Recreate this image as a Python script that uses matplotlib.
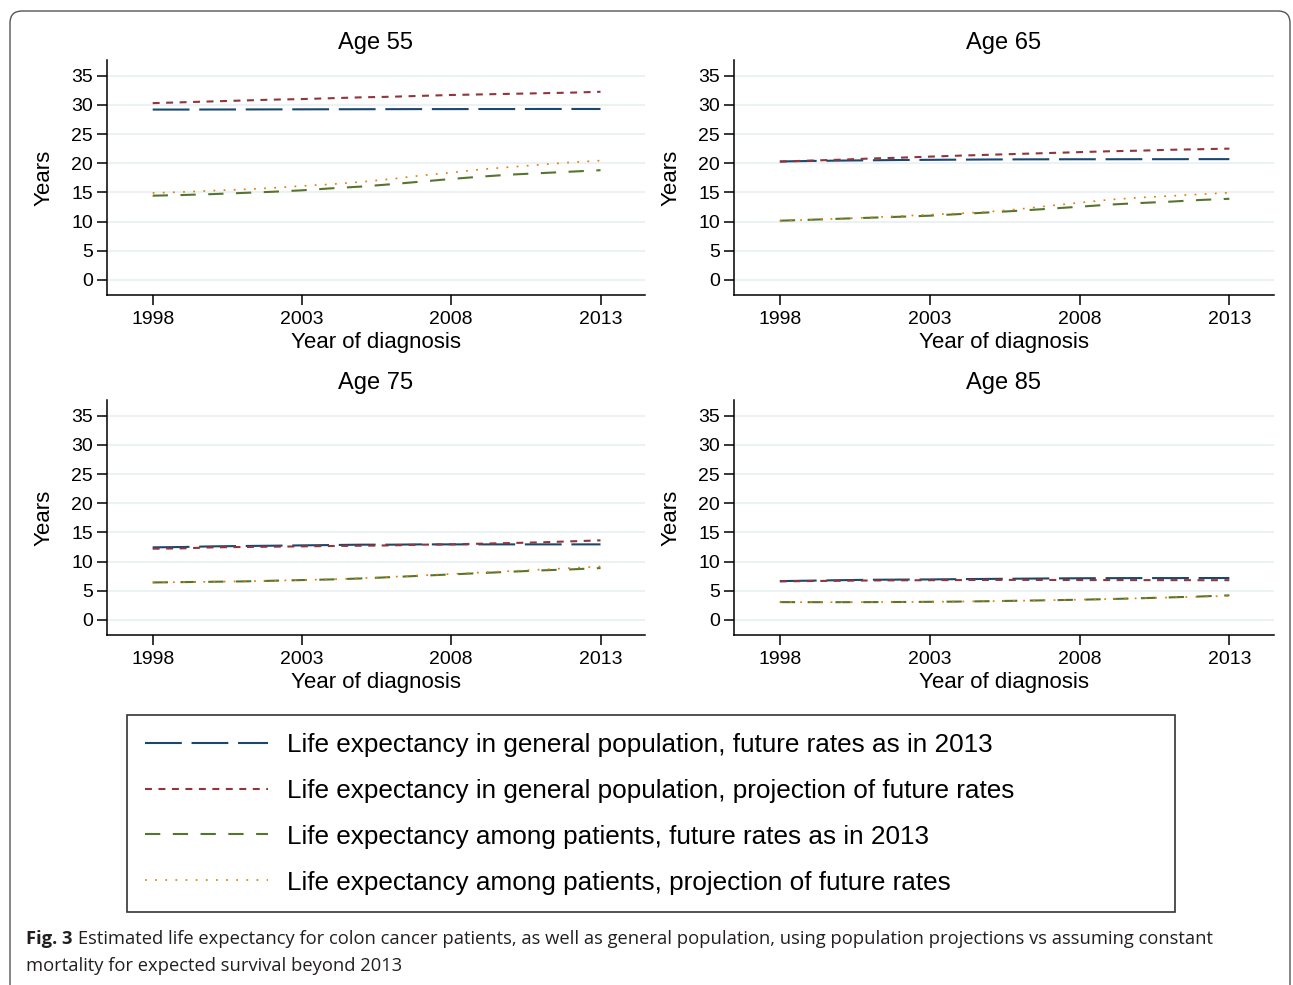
import matplotlib.pyplot as plt
from matplotlib.patches import FancyBboxPatch

plt.rcParams['font.family'] = ['Liberation Sans', 'DejaVu Sans']
plt.rcParams['lines.scale_dashes'] = False

years = list(range(1998, 2014))
ages = [55, 65, 75, 85]

# one row per age group, values per year of diagnosis 1998-2013
gen_const = [
    [29.2, 29.2, 29.21, 29.22, 29.23, 29.24, 29.25, 29.26, 29.27, 29.28, 29.28, 29.29, 29.29, 29.3, 29.3, 29.3],
    [20.3, 20.38, 20.45, 20.5, 20.55, 20.58, 20.61, 20.64, 20.66, 20.67, 20.68, 20.68, 20.69, 20.69, 20.7, 20.7],
    [12.43, 12.49, 12.6, 12.66, 12.71, 12.77, 12.83, 12.89, 12.89, 12.94, 12.94, 12.94, 12.94, 12.94, 12.94, 12.94],
    [6.64, 6.72, 6.8, 6.87, 6.9, 6.93, 6.98, 7.02, 7.06, 7.1, 7.13, 7.15, 7.16, 7.16, 7.17, 7.17],
]
gen_proj = [
    [30.3, 30.45, 30.6, 30.75, 30.9, 31.0, 31.15, 31.3, 31.4, 31.55, 31.7, 31.8, 31.9, 32.0, 32.1, 32.25],
    [20.27, 20.45, 20.6, 20.8, 20.95, 21.13, 21.3, 21.45, 21.6, 21.75, 21.9, 22.05, 22.15, 22.3, 22.4, 22.5],
    [12.2, 12.26, 12.43, 12.49, 12.54, 12.6, 12.66, 12.71, 12.77, 12.89, 12.94, 13.06, 13.17, 13.29, 13.46, 13.63],
    [6.6, 6.65, 6.7, 6.75, 6.78, 6.8, 6.82, 6.84, 6.85, 6.84, 6.82, 6.82, 6.81, 6.81, 6.8, 6.8],
]
pat_const = [
    [14.43, 14.55, 14.7, 14.9, 15.1, 15.35, 15.7, 16.0, 16.4, 16.85, 17.3, 17.7, 18.05, 18.3, 18.55, 18.8],
    [10.14, 10.3, 10.48, 10.65, 10.82, 11.0, 11.28, 11.57, 11.86, 12.2, 12.54, 12.9, 13.17, 13.4, 13.69, 13.9],
    [6.41, 6.47, 6.53, 6.59, 6.7, 6.82, 6.93, 7.1, 7.33, 7.56, 7.79, 8.02, 8.25, 8.48, 8.65, 8.88],
    [3.04, 3.03, 3.03, 3.04, 3.06, 3.09, 3.13, 3.2, 3.28, 3.36, 3.45, 3.56, 3.7, 3.85, 4.0, 4.2],
]
pat_proj = [
    [14.9, 15.06, 15.3, 15.5, 15.75, 16.1, 16.4, 16.8, 17.3, 17.9, 18.4, 18.95, 19.35, 19.75, 20.15, 20.45],
    [10.14, 10.3, 10.48, 10.7, 10.94, 11.17, 11.4, 11.68, 12.14, 12.7, 13.23, 13.75, 14.1, 14.38, 14.66, 14.95],
    [6.41, 6.47, 6.53, 6.6, 6.71, 6.83, 6.95, 7.13, 7.37, 7.62, 7.87, 8.12, 8.37, 8.62, 8.88, 9.15],
    [3.04, 3.03, 3.03, 3.04, 3.06, 3.09, 3.14, 3.2, 3.28, 3.37, 3.46, 3.57, 3.7, 3.83, 3.97, 4.1],
]

labels = [
    "Life expectancy in general population, future rates as in 2013",
    "Life expectancy in general population, projection of future rates",
    "Life expectancy among patients, future rates as in 2013",
    "Life expectancy among patients, projection of future rates",
]
styles = [
    dict(color="#1a476f", lw=1.5, dashes=(26.5, 7)),
    dict(color="#90353b", lw=1.5, dashes=(5, 4.7)),
    dict(color="#55752f", lw=1.5, dashes=(11, 9)),
    dict(color="#e37e00", lw=1.2, dashes=(1.3, 6)),
]

W, H = 1293, 985
fig = plt.figure(figsize=(W / 100, H / 100), dpi=100)

# panel boxes in pixels: left, top, right, bottom
boxes = [(107, 60, 645, 295), (734, 60, 1274, 295),
         (107, 400, 645, 635), (734, 400, 1274, 635)]

handles = []
for i, (l, t, r, b) in enumerate(boxes):
    ax = fig.add_axes([l / W, 1 - b / H, (r - l) / W, (b - t) / H])
    series = [gen_const[i], gen_proj[i], pat_const[i], pat_proj[i]]
    for vals, st in zip(series, styles):
        ln, = ax.plot(years, vals, **st)
        if i == 0:
            handles.append(ln)
    ax.set_xlim(1996.47, 2014.49)
    ax.set_ylim(-2.6, 37.7)
    ax.set_xticks([1998, 2003, 2008, 2013])
    ax.set_yticks(range(0, 40, 5))
    ax.yaxis.grid(True, color="#eaf2f3", lw=1.5)
    ax.set_axisbelow(True)
    for s in ("top", "right"):
        ax.spines[s].set_visible(False)
    for s in ("left", "bottom"):
        ax.spines[s].set_linewidth(1.1)
    ax.tick_params(length=7, width=1.1, labelsize=14, pad=3)
    ax.tick_params(axis="x", pad=4.5)
    ax.set_title(f"Age {ages[i]}", fontsize=17, pad=8)
    ax.set_xlabel("Year of diagnosis", fontsize=16, labelpad=3)
    ax.set_ylabel("Years", fontsize=16, labelpad=12)

leg = fig.legend(handles, labels, loc="upper left",
                 bbox_to_anchor=(127 / W, 1 - 715 / H, (1175 - 127) / W, 0),
                 mode="expand", fontsize=18.8, handlelength=4.72,
                 handletextpad=0.74, labelspacing=0.84, borderpad=0.68,
                 borderaxespad=0, fancybox=False, frameon=True)
leg.get_frame().set_edgecolor("black")
leg.get_frame().set_linewidth(1.2)

# rounded outer frame around the figure
frame = FancyBboxPatch((0.10, -1.0), 12.80, 10.74,
                       boxstyle="round,pad=0,rounding_size=0.12",
                       transform=fig.dpi_scale_trans, fill=False,
                       edgecolor="#555555", lw=1.0)
fig.add_artist(frame)

# caption
cap_font = ["Open Sans", "DejaVu Sans"]
cap_size = 13.2
fig.canvas.draw()
rend = fig.canvas.get_renderer()
t1 = fig.text(26 / W, 1 - 939 / H, "Fig. 3", fontsize=cap_size, fontweight="bold",
              family=cap_font, va="center", color="#231f20")
bb = t1.get_window_extent(rend)
fig.text((bb.x1 + 5) / W, 1 - 939 / H,
         "Estimated life expectancy for colon cancer patients, as well as general "
         "population, using population projections vs assuming constant",
         fontsize=cap_size, family=cap_font, va="center", color="#231f20")
fig.text(26 / W, 1 - 966 / H, "mortality for expected survival beyond 2013",
         fontsize=cap_size, family=cap_font, va="center", color="#231f20")

fig.savefig("out.png", dpi=100)
